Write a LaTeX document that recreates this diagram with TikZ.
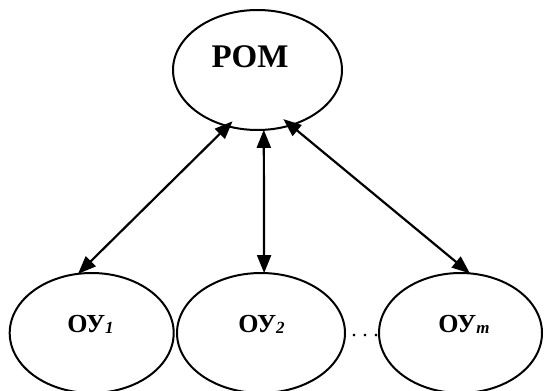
\documentclass[tikz,border=0pt]{standalone}
\usepackage{fontspec}
\setmainfont{Liberation Serif}
\usetikzlibrary{shapes.geometric,arrows.meta}

\tikzset{
  unit/.style={ellipse, draw, line width=2pt, inner sep=0pt, outer sep=0pt},
  bigname/.style={anchor=base, inner sep=0pt, font=\fontsize{33}{36}\selectfont\bfseries},
  subname/.style={anchor=base, inner sep=0pt, font=\fontsize{26}{30}\selectfont\bfseries},
  link/.style={line width=2.2pt,
    {Triangle[length=18pt,width=14pt]}-{Triangle[length=18pt,width=14pt]}},
}
\newcommand{\idx}[1]{\raisebox{-1.5pt}{\fontsize{17}{19}\selectfont\bfseries\itshape #1}}

\begin{document}
\begin{tikzpicture}[x=1pt,y=-1pt]
  \clip (0,0) rectangle (544,391);
  \fill[white] (0,0) rectangle (544,391);

  % upper level
  \node[unit, minimum width=169pt, minimum height=120pt] (rom) at (257.5,70) {};
  \node[bigname] (romtext) at (250,67) {РОМ};

  % lower level
  \node[unit, minimum width=164pt, minimum height=120pt] (ou1) at (91.7,333) {};
  \node[unit, minimum width=168pt, minimum height=120pt] (ou2) at (261,333) {};
  \node[unit, minimum width=163pt, minimum height=120pt] (ou3) at (460.5,333) {};

  \node[subname] (ou1text) at (90.5,332) {ОУ\idx{1}};
  \node[subname] (ou2text) at (261.5,332) {ОУ\idx{2}};
  \node[subname] (ou3text) at (464,332) {ОУ\idx{m}};

  \node[anchor=base, inner sep=0pt, font=\fontsize{22}{24}\selectfont\frenchspacing]
    (dots) at (365,336.5) {. . .};

  % two-way links
  \draw[link, shorten <=-6.9pt] (rom.242.3) -- (ou1.103.5);
  \draw[link] (rom.276.2) -- (ou2.87.1);
  \draw[link, shorten <=-9.5pt] (rom.301.95) -- (ou3.81.8);
\end{tikzpicture}
\end{document}
